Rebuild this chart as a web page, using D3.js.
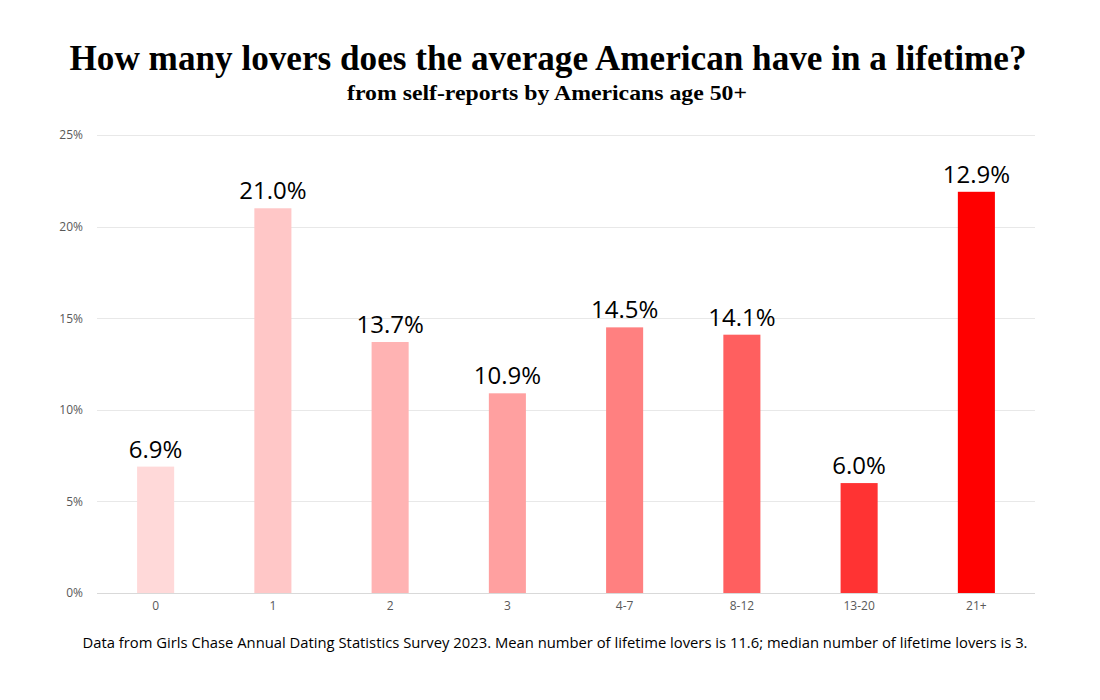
<!DOCTYPE html>
<html>
<head>
<meta charset="utf-8">
<script src="https://cdn.jsdelivr.net/npm/d3@7"></script>
<style>
  html, body { margin: 0; padding: 0; background: #fff; }
  svg { display: block; }
</style>
</head>
<body>
<svg id="chart" width="1100" height="700"></svg>
<script>
const categories = ["0", "1", "2", "3", "4-7", "8-12", "13-20", "21+"];
const values = [6.9, 21.0, 13.7, 10.9, 14.5, 14.1, 6.0, 21.9];
const valueLabels = ["6.9%", "21.0%", "13.7%", "10.9%", "14.5%", "14.1%", "6.0%", "12.9%"];
const barColors = ["#FFD9D9", "#FFC7C7", "#FFB3B3", "#FFA0A0", "#FF8080", "#FF5F5F", "#FF3333", "#FF0000"];
const yTicks = [0, 5, 10, 15, 20, 25];
const titleText = "How many lovers does the average American have in a lifetime?";
const subtitleText = "from self-reports by Americans age 50+";
const footerText = "Data from Girls Chase Annual Dating Statistics Survey 2023. Mean number of lifetime lovers is 11.6; median number of lifetime lovers is 3.";

(function () {
const svg = d3.select("#chart");
const plotLeft = 97, plotRight = 1035, plotTop = 135, plotBottom = 593;

const x = d3.scaleBand().domain(categories).range([plotLeft, plotRight]).paddingInner(0.684).paddingOuter(0.342);
const y = d3.scaleLinear().domain([0, 25]).range([plotBottom, plotTop]);

// gridlines
svg.append("g")
  .selectAll("line").data(yTicks).join("line")
  .attr("x1", plotLeft).attr("x2", plotRight)
  .attr("y1", d => Math.round(y(d)) + 0.5).attr("y2", d => Math.round(y(d)) + 0.5)
  .attr("stroke", d => d === 0 ? "#d9d9d9" : "#e8e8e8").attr("stroke-width", 1);

// y axis
const yAxis = d3.axisLeft(y).tickValues(yTicks).tickFormat(d => d + "%").tickSize(0).tickPadding(0);
const yg = svg.append("g").attr("transform", `translate(${plotLeft - 14},0)`).call(yAxis);
yg.select(".domain").remove();
yg.selectAll("text").attr("fill", "#595959").style("font-family", "'Open Sans', 'Noto Sans', sans-serif").style("font-size", "12px");

// x axis
const xAxis = d3.axisBottom(x).tickSize(0).tickPadding(0);
const xg = svg.append("g").attr("transform", `translate(0,${plotBottom + 8})`).call(xAxis);
xg.select(".domain").remove();
xg.selectAll("text").attr("fill", "#595959").style("font-family", "'Open Sans', 'Noto Sans', sans-serif").style("font-size", "12px");

// bars
svg.append("g").selectAll("rect").data(categories).join("rect")
  .attr("x", d => x(d))
  .attr("width", x.bandwidth())
  .attr("y", (d, i) => y(values[i]))
  .attr("height", (d, i) => y(0) - y(values[i]))
  .attr("fill", (d, i) => barColors[i]);

// value labels
svg.append("g").selectAll("text").data(categories).join("text")
  .attr("x", d => x(d) + x.bandwidth() / 2)
  .attr("y", (d, i) => y(values[i]) - 9)
  .attr("text-anchor", "middle")
  .attr("fill", "#000")
  .style("font-family", "'Open Sans', 'Noto Sans', sans-serif")
  .style("font-size", "24px")
  .text((d, i) => valueLabels[i]);

// title
svg.append("text")
  .attr("x", 548).attr("y", 70)
  .attr("text-anchor", "middle")
  .attr("textLength", 957).attr("lengthAdjust", "spacingAndGlyphs")
  .style("font-family", "'Liberation Serif', 'DejaVu Serif', serif")
  .style("font-weight", "bold").style("font-size", "36px")
  .text(titleText);

svg.append("text")
  .attr("x", 547).attr("y", 100)
  .attr("text-anchor", "middle")
  .attr("textLength", 400).attr("lengthAdjust", "spacingAndGlyphs")
  .style("font-family", "'Liberation Serif', 'DejaVu Serif', serif")
  .style("font-weight", "bold").style("font-size", "22px")
  .text(subtitleText);

// footer
svg.append("text")
  .attr("x", 555).attr("y", 648)
  .attr("text-anchor", "middle")
  .attr("textLength", 945).attr("lengthAdjust", "spacingAndGlyphs")
  .style("font-family", "'Open Sans', 'Noto Sans', sans-serif")
  .style("font-size", "14px")
  .attr("fill", "#000")
  .text(footerText);
})();
</script>
</body>
</html>
